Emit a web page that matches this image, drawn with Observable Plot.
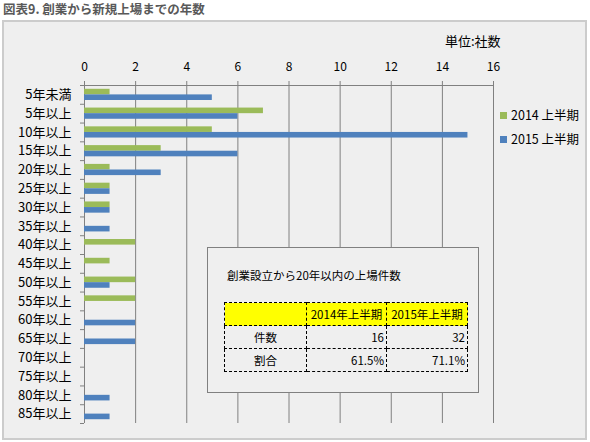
<!DOCTYPE html>
<html>
<head>
<meta charset="utf-8">
<script src="https://cdn.jsdelivr.net/npm/d3@7"></script>
<script src="https://cdn.jsdelivr.net/npm/@observablehq/plot@0.6"></script>
<style>
  body { margin: 0; background: #ffffff; font-family: "Noto Sans CJK JP", "Noto Sans", sans-serif; }
  #wrap { position: relative; width: 590px; height: 442px; overflow: hidden; }
  #title { position: absolute; left: 3px; top: 0px; font-size: 12.5px; font-weight: bold; color: #595959; line-height: 18px; white-space: nowrap; }
  #frame { position: absolute; left: 2px; top: 20px; width: 581px; height: 416px; background: #efefef; border: 2px solid #cccccc; }
  #chart { position: absolute; left: 0; top: 0; }
  #unit { position: absolute; left: 445px; top: 32px; font-size: 13px; color: #000; line-height: 18px; white-space: nowrap; }
  .leg { position: absolute; left: 500px; font-size: 12.5px; color: #000; line-height: 16px; white-space: nowrap; }
  .leg span.sw { display: inline-block; width: 7px; height: 7px; margin-right: 4px; vertical-align: 1px; }
  #inset { position: absolute; left: 207px; top: 247px; width: 270px; height: 144px; background: #efefef; border: 1px solid #808080; }
  #insetTitle { position: absolute; left: 19px; top: 19px; font-size: 11.5px; line-height: 16px; color: #000; white-space: nowrap; }
  #tbl { position: absolute; left: 16px; top: 54px; border-collapse: collapse; font-size: 11.5px; color: #000; }
  #tbl td { border: 1px dashed #000; height: 22px; padding: 0 2px; line-height: 14px; white-space: nowrap; }
  #tbl tr.hd td { background: #ffff00; text-align: center; }
  #tbl td.lab { text-align: center; }
  #tbl td.num { text-align: right; }
</style>
</head>
<body>
<div id="wrap">
  <div id="frame"></div>
  <div id="title"></div>
  <div id="chart"></div>
  <div id="unit"></div>
  <div id="legend"></div>
  <div id="inset"><div id="insetTitle"></div><table id="tbl"></table></div>
</div>
<script>
const chartTitle = "図表9. 創業から新規上場までの年数";
const unitLabel = "単位:社数";
const categories = ["5年未満","5年以上","10年以上","15年以上","20年以上","25年以上","30年以上","35年以上","40年以上","45年以上","50年以上","55年以上","60年以上","65年以上","70年以上","75年以上","80年以上","85年以上"];
const values2014 = [1,7,5,3,1,1,1,0,2,1,2,2,0,0,0,0,0,0];
const values2015 = [5,6,15,6,3,1,1,1,0,0,1,0,2,2,0,0,1,1];
const seriesNames = ["2014 上半期","2015 上半期"];
const seriesColors = ["#9bbb59","#4f81bd"];
const xTicks = [0,2,4,6,8,10,12,14,16];
const tableTitle = "創業設立から20年以内の上場件数";
const tableHeader = ["", "2014年上半期", "2015年上半期"];
const tableRowLabels = ["件数", "割合"];
const table2014 = ["16", "61.5%"];
const table2015 = ["32", "71.1%"];

document.getElementById("title").textContent = chartTitle;
document.getElementById("unit").textContent = unitLabel;

const W = 590, H = 442, mt = 85, mb = 19, ml = 84, mr = 97;
const step = (H - mt - mb) / categories.length;
const barH = 5.6;
const gap = (step - 2 * barH) / 2;

const rows2014 = categories.map((c, i) => ({cat: c, value: values2014[i]}));
const rows2015 = categories.map((c, i) => ({cat: c, value: values2015[i]}));
const grid = "#808080";

const plot = Plot.plot({
  width: W, height: H,
  marginTop: mt, marginBottom: mb, marginLeft: ml, marginRight: mr,
  style: {background: "transparent", fontFamily: '"Noto Sans CJK JP", "Noto Sans", sans-serif', fontSize: "12px", color: "#000", overflow: "visible"},
  x: {domain: [0, 16], axis: null},
  y: {domain: categories, padding: 0, round: false, axis: null},
  marks: [
    Plot.gridX(xTicks, {stroke: grid, strokeOpacity: 1}),
    Plot.axisX(xTicks, {anchor: "top", label: null, tickSize: 5, tickPadding: 10, stroke: grid, fill: "#000", tickFormat: d => String(d), fontSize: 12}),
    Plot.ruleY([categories[0]], {dy: -step / 2, stroke: grid}),
    Plot.ruleX([0], {stroke: grid}),
    Plot.axisY(categories, {anchor: "left", label: null, tickSize: 4, dy: -step / 2, stroke: grid, tickFormat: () => ""}),
    Plot.axisY([categories[categories.length - 1]], {anchor: "left", label: null, tickSize: 4, dy: step / 2, stroke: grid, tickFormat: () => ""}),
    Plot.axisY(categories, {anchor: "left", label: null, tickSize: 0, tickPadding: 13, fill: "#000", fontSize: 13}),
    Plot.barX(rows2014, {x: "value", y: "cat", fill: seriesColors[0], insetTop: gap, insetBottom: gap + barH}),
    Plot.barX(rows2015, {x: "value", y: "cat", fill: seriesColors[1], insetTop: gap + barH, insetBottom: gap})
  ]
});
document.getElementById("chart").appendChild(plot);

const legend = document.getElementById("legend");
seriesNames.forEach((name, i) => {
  const d = document.createElement("div");
  d.className = "leg";
  d.style.top = (107 + i * 24) + "px";
  d.innerHTML = `<span class="sw" style="background:${seriesColors[i]}"></span>`;
  d.appendChild(document.createTextNode(name));
  legend.appendChild(d);
});

document.getElementById("insetTitle").textContent = tableTitle;
const tbl = document.getElementById("tbl");
const widths = [77, 75, 76];
const hr = document.createElement("tr");
hr.className = "hd";
tableHeader.forEach((h, j) => {
  const td = document.createElement("td");
  td.textContent = h;
  td.style.width = widths[j] + "px";
  hr.appendChild(td);
});
tbl.appendChild(hr);
tableRowLabels.forEach((lab, i) => {
  const tr = document.createElement("tr");
  [lab, table2014[i], table2015[i]].forEach((v, j) => {
    const td = document.createElement("td");
    td.textContent = v;
    td.className = j === 0 ? "lab" : "num";
    tr.appendChild(td);
  });
  tbl.appendChild(tr);
});
</script>
</body>
</html>
